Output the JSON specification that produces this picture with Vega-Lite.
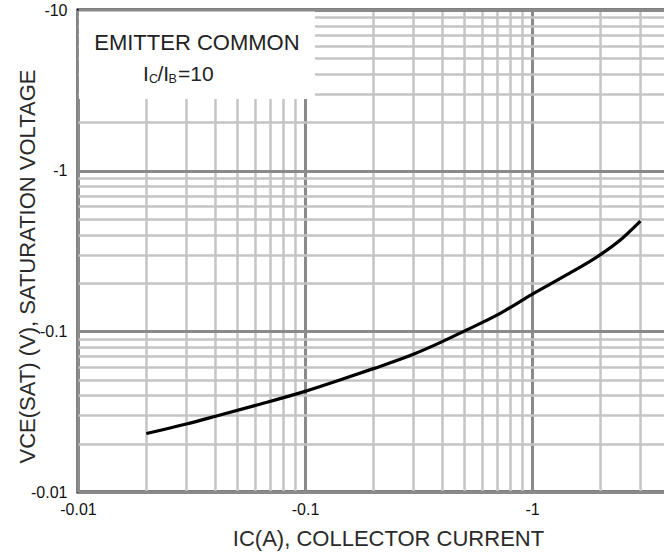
{
  "$schema": "https://vega.github.io/schema/vega-lite/v6.json",
  "width": 588,
  "height": 482,
  "autosize": {"type": "none"},
  "padding": {"left": 78, "top": 10, "right": 0, "bottom": 63},
  "background": "white",
  "config": {
    "view": {"stroke": "black", "strokeWidth": 3},
    "font": "Liberation Sans"
  },
  "data": {
    "values": [
      {"ic": 0.02, "vce": 0.0231},
      {"ic": 0.03, "vce": 0.0265},
      {"ic": 0.04, "vce": 0.0295},
      {"ic": 0.06, "vce": 0.0345},
      {"ic": 0.1, "vce": 0.0423},
      {"ic": 0.15, "vce": 0.051},
      {"ic": 0.2, "vce": 0.0586},
      {"ic": 0.3, "vce": 0.072},
      {"ic": 0.4, "vce": 0.086},
      {"ic": 0.5, "vce": 0.1},
      {"ic": 0.7, "vce": 0.126},
      {"ic": 1.0, "vce": 0.17},
      {"ic": 1.4, "vce": 0.222},
      {"ic": 2.0, "vce": 0.3},
      {"ic": 2.5, "vce": 0.38},
      {"ic": 3.0, "vce": 0.485}
    ]
  },
  "layer": [
    {
      "mark": {"type": "line", "color": "black", "strokeWidth": 3.2, "interpolate": "monotone"},
      "encoding": {
        "x": {
          "field": "ic",
          "type": "quantitative",
          "scale": {"type": "log", "domain": [0.01, 3.89], "nice": false},
          "axis": {
            "values": [0.01,0.02,0.03,0.04,0.05,0.06,0.07,0.08,0.09,0.1,0.2,0.3,0.4,0.5,0.6,0.7,0.8,0.9,1,2,3],
            "grid": true,
            "gridColor": {"condition": {"test": "abs(log(datum.value)/LN10 - round(log(datum.value)/LN10)) < 0.001", "value": "#8a8a8a"}, "value": "#c4c4c4"},
            "gridWidth": {"condition": {"test": "abs(log(datum.value)/LN10 - round(log(datum.value)/LN10)) < 0.001", "value": 3}, "value": 2.5},
            "ticks": false,
            "domain": false,
            "labelExpr": "abs(log(datum.value)/LN10 - round(log(datum.value)/LN10)) < 0.001 ? '-' + datum.value : ''",
            "labelOverlap": false,
            "labelFlush": false,
            "labelFontSize": 16,
            "labelColor": "#111111",
            "labelPadding": 9,
            "title": "IC(A), COLLECTOR CURRENT",
            "titleFontSize": 22,
            "titleFontWeight": "normal",
            "titleColor": "#2a2a2a",
            "titleX": 310,
            "titleY": 36,
            "titleBaseline": "top"
          }
        },
        "y": {
          "field": "vce",
          "type": "quantitative",
          "scale": {"type": "log", "domain": [0.01, 10], "nice": false},
          "axis": {
            "values": [0.01,0.02,0.03,0.04,0.05,0.06,0.07,0.08,0.09,0.1,0.2,0.3,0.4,0.5,0.6,0.7,0.8,0.9,1,2,3,4,5,6,7,8,9,10],
            "grid": true,
            "gridColor": {"condition": {"test": "abs(log(datum.value)/LN10 - round(log(datum.value)/LN10)) < 0.001", "value": "#8a8a8a"}, "value": "#c4c4c4"},
            "gridWidth": {"condition": {"test": "abs(log(datum.value)/LN10 - round(log(datum.value)/LN10)) < 0.001", "value": 3}, "value": 2.5},
            "ticks": false,
            "domain": false,
            "labelExpr": "abs(log(datum.value)/LN10 - round(log(datum.value)/LN10)) < 0.001 ? '-' + datum.value : ''",
            "labelOverlap": false,
            "labelFlush": false,
            "labelFontSize": 16,
            "labelColor": "#111111",
            "labelPadding": 11,
            "title": "VCE(SAT) (V), SATURATION VOLTAGE",
            "titleFontSize": 22,
            "titleFontWeight": "normal",
            "titleColor": "#2a2a2a",
            "titleX": -51,
            "titleY": 256,
            "titleBaseline": "middle",
            "titleAlign": "center"
          }
        }
      }
    },
    {
      "data": {"values": [{}]},
      "mark": {"type": "rect", "fill": "white"},
      "encoding": {
        "x": {"datum": 0.0101, "type": "quantitative"},
        "x2": {"datum": 0.1107},
        "y": {"datum": 9.8, "type": "quantitative"},
        "y2": {"datum": 2.79}
      }
    },
    {
      "data": {"values": [{}]},
      "mark": {"type": "text", "text": "EMITTER COMMON", "fontSize": 22, "align": "center", "baseline": "alphabetic", "color": "#222222"},
      "encoding": {
        "x": {"datum": 0.0334, "type": "quantitative"},
        "y": {"datum": 5.64, "type": "quantitative"}
      }
    },
    {
      "data": {"values": [{}]},
      "mark": {"type": "text", "text": "I", "fontSize": 21, "align": "left", "baseline": "alphabetic", "color": "#222222", "dx": 0},
      "encoding": {"x": {"datum": 0.01933, "type": "quantitative"}, "y": {"datum": 3.61, "type": "quantitative"}}
    },
    {
      "data": {"values": [{}]},
      "mark": {"type": "text", "text": "C", "fontSize": 12.5, "align": "left", "baseline": "alphabetic", "color": "#222222", "dx": 6, "dy": 2},
      "encoding": {"x": {"datum": 0.01933, "type": "quantitative"}, "y": {"datum": 3.61, "type": "quantitative"}}
    },
    {
      "data": {"values": [{}]},
      "mark": {"type": "text", "text": "/I", "fontSize": 21, "align": "left", "baseline": "alphabetic", "color": "#222222", "dx": 14.5},
      "encoding": {"x": {"datum": 0.01933, "type": "quantitative"}, "y": {"datum": 3.61, "type": "quantitative"}}
    },
    {
      "data": {"values": [{}]},
      "mark": {"type": "text", "text": "B", "fontSize": 12.5, "align": "left", "baseline": "alphabetic", "color": "#222222", "dx": 25.5, "dy": 2},
      "encoding": {"x": {"datum": 0.01933, "type": "quantitative"}, "y": {"datum": 3.61, "type": "quantitative"}}
    },
    {
      "data": {"values": [{}]},
      "mark": {"type": "text", "text": "=10", "fontSize": 21, "align": "left", "baseline": "alphabetic", "color": "#222222", "dx": 35},
      "encoding": {"x": {"datum": 0.01933, "type": "quantitative"}, "y": {"datum": 3.61, "type": "quantitative"}}
    }
  ]
}
